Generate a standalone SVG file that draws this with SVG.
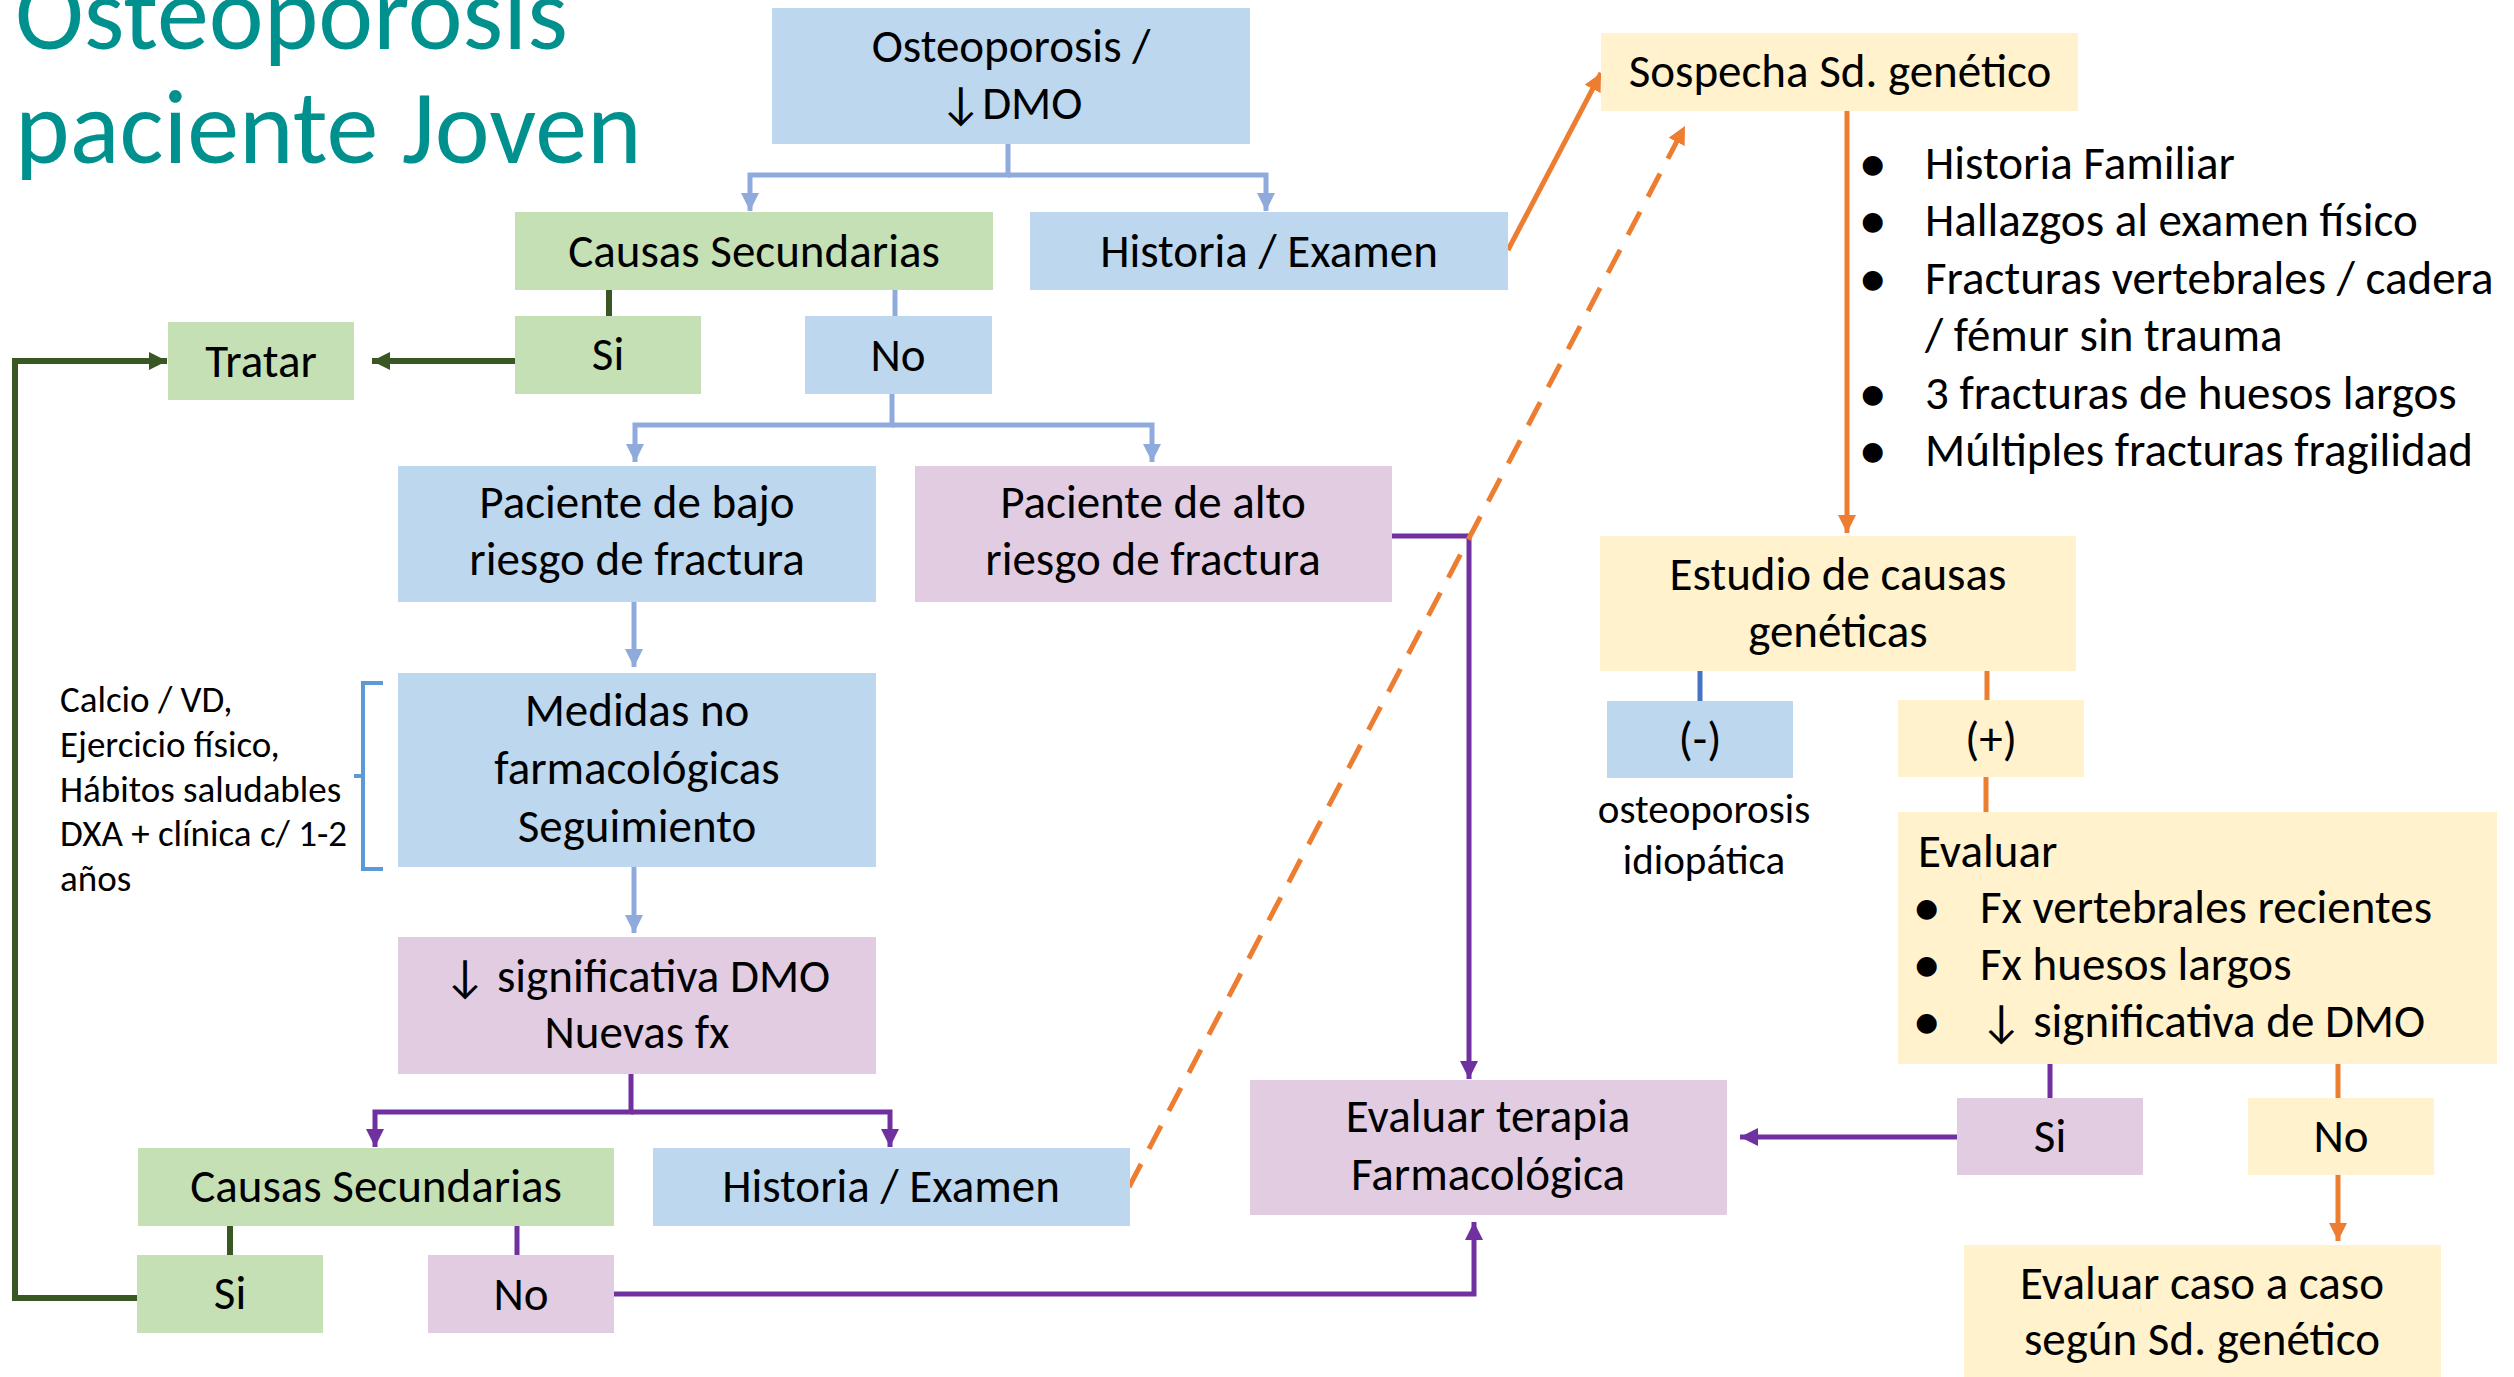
<svg xmlns="http://www.w3.org/2000/svg" width="2514" height="1377" viewBox="0 0 2514 1377">
<defs>
<style>
text{font-family:Carlito,Lato,"Liberation Sans",sans-serif;fill:#000;}
.t{font-size:47px;text-anchor:middle;}
.l{font-size:47px;}
.b{font-size:47px;font-weight:bold;}
.s{font-size:37px;}
.o{font-size:41px;text-anchor:middle;}
.title{font-size:104px;fill:#00918F;}
.blue{fill:#BDD7EE;}
.green{fill:#C5E0B4;}
.purple{fill:#E1CCE2;}
.yellow{fill:#FFF2CC;}
.cb{fill:none;stroke:#8FAADC;stroke-width:5;}
.cp{fill:none;stroke:#7030A0;stroke-width:5;}
.cg{fill:none;stroke:#385723;stroke-width:6;}
.co{fill:none;stroke:#ED7D31;stroke-width:5;}
</style>
<marker id="ab" viewBox="0 0 18 18" refX="18" refY="9" markerWidth="18" markerHeight="18" markerUnits="userSpaceOnUse" orient="auto"><path d="M0,0 L18,9 L0,18 z" fill="#8FAADC"/></marker>
<marker id="ap" viewBox="0 0 18 18" refX="18" refY="9" markerWidth="18" markerHeight="18" markerUnits="userSpaceOnUse" orient="auto"><path d="M0,0 L18,9 L0,18 z" fill="#7030A0"/></marker>
<marker id="ag" viewBox="0 0 18 18" refX="18" refY="9" markerWidth="18" markerHeight="18" markerUnits="userSpaceOnUse" orient="auto"><path d="M0,0 L18,9 L0,18 z" fill="#385723"/></marker>
<marker id="ao" viewBox="0 0 18 18" refX="18" refY="9" markerWidth="18" markerHeight="18" markerUnits="userSpaceOnUse" orient="auto"><path d="M0,0 L18,9 L0,18 z" fill="#ED7D31"/></marker>
</defs>
<rect width="2514" height="1377" fill="#fff"/>

<g id="title">
<text class="title" x="15" y="49">Osteoporosis</text>
<text class="title" x="15" y="163">paciente Joven</text>
</g>

<g id="connectors">
<path class="cb" d="M1008,144 V175 H750 V211" marker-end="url(#ab)"/>
<path class="cb" d="M1008,175 H1266 V211" marker-end="url(#ab)"/>
<path class="cb" d="M895,290 V316"/>
<path class="cb" d="M892,394 V425 H635 V462" marker-end="url(#ab)"/>
<path class="cb" d="M892,425 H1152 V462" marker-end="url(#ab)"/>
<path class="cb" d="M634,602 V667" marker-end="url(#ab)"/>
<path class="cb" d="M634,867 V933" marker-end="url(#ab)"/>
<path class="cg" d="M609,290 V316"/>
<path class="cg" d="M515,361 H372" marker-end="url(#ag)"/>
<path class="cg" d="M137,1298 H15 V361 H167" marker-end="url(#ag)"/>
<path class="cg" d="M230,1226 V1255"/>
<path class="cp" d="M631,1074 V1112 H375 V1147" marker-end="url(#ap)"/>
<path class="cp" d="M631,1112 H890 V1147" marker-end="url(#ap)"/>
<path class="cp" d="M517,1226 V1255"/>
<path class="cp" d="M614,1294 H1474 V1222" marker-end="url(#ap)"/>
<path class="cp" d="M1392,536 H1469 V1079" marker-end="url(#ap)"/>
<path class="cp" d="M2050,1064 V1098"/>
<path class="cp" d="M1957,1137 H1740" marker-end="url(#ap)"/>
<path class="co" d="M1508,250 L1601,73" marker-end="url(#ao)"/>
<path class="co" d="M1129,1187 L1685,126" stroke-dasharray="26 17" marker-end="url(#ao)"/>
<path class="co" d="M1847,111 V533" marker-end="url(#ao)"/>
<path class="co" d="M1987,671 V700"/>
<path class="co" d="M1986,777 V812"/>
<path class="co" d="M2338,1064 V1098"/>
<path class="co" d="M2338,1175 V1241" marker-end="url(#ao)"/>
<path d="M1700,671 V701" fill="none" stroke="#4472C4" stroke-width="5"/>
<path d="M383,683 H363 V869 H383 M363,776 H354" fill="none" stroke="#5B9BD5" stroke-width="4"/>
</g>

<g id="n-osteo"><rect class="blue" x="772" y="8" width="478" height="136"/>
<text class="t" x="1011" y="62">Osteoporosis /</text><text class="t" x="1011" y="119">↓DMO</text></g>

<g id="n-causas1"><rect class="green" x="515" y="212" width="478" height="78"/>
<text class="t" x="754" y="267">Causas Secundarias</text></g>
<g id="n-historia1"><rect class="blue" x="1030" y="212" width="478" height="78"/>
<text class="t" x="1269" y="267">Historia / Examen</text></g>

<g id="n-tratar"><rect class="green" x="168" y="322" width="186" height="78"/>
<text class="t" x="261" y="377">Tratar</text></g>
<g id="n-si1"><rect class="green" x="515" y="316" width="186" height="78"/>
<text class="t" x="608" y="370">Si</text></g>
<g id="n-no1"><rect class="blue" x="805" y="316" width="187" height="78"/>
<text class="t" x="898" y="371">No</text></g>

<g id="n-bajo"><rect class="blue" x="398" y="466" width="478" height="136"/>
<text class="t" x="637" y="518">Paciente de bajo</text><text class="t" x="637" y="575">riesgo de fractura</text></g>
<g id="n-alto"><rect class="purple" x="915" y="466" width="477" height="136"/>
<text class="t" x="1153" y="518">Paciente de alto</text><text class="t" x="1153" y="575">riesgo de fractura</text></g>

<g id="n-medidas"><rect class="blue" x="398" y="673" width="478" height="194"/>
<text class="t" x="637" y="726">Medidas no</text><text class="t" x="637" y="784">farmacológicas</text><text class="t" x="637" y="842">Seguimiento</text></g>

<g id="n-nota">
<text class="s" x="60" y="712">Calcio / VD,</text>
<text class="s" x="60" y="757">Ejercicio físico,</text>
<text class="s" x="60" y="802">Hábitos saludables</text>
<text class="s" x="60" y="846">DXA + clínica c/ 1-2</text>
<text class="s" x="60" y="891">años</text>
</g>

<g id="n-signif"><rect class="purple" x="398" y="937" width="478" height="137"/>
<text class="t" x="637" y="992">↓ significativa DMO</text><text class="t" x="637" y="1048">Nuevas fx</text></g>

<g id="n-causas2"><rect class="green" x="138" y="1148" width="476" height="78"/>
<text class="t" x="376" y="1202">Causas Secundarias</text></g>
<g id="n-historia2"><rect class="blue" x="653" y="1148" width="477" height="78"/>
<text class="t" x="891" y="1202">Historia / Examen</text></g>
<g id="n-si2"><rect class="green" x="137" y="1255" width="186" height="78"/>
<text class="t" x="230" y="1309">Si</text></g>
<g id="n-no2"><rect class="purple" x="428" y="1255" width="186" height="78"/>
<text class="t" x="521" y="1310">No</text></g>

<g id="n-terapia"><rect class="purple" x="1250" y="1080" width="477" height="135"/>
<text class="t" x="1488" y="1132">Evaluar terapia</text><text class="t" x="1488" y="1190">Farmacológica</text></g>

<g id="n-sospecha"><rect class="yellow" x="1601" y="33" width="477" height="78"/>
<text class="t" x="1840" y="87">Sospecha Sd. genético</text></g>

<g id="n-criterios">
<text class="b" x="1861" y="179">•</text><text class="l" x="1925" y="179">Historia Familiar</text>
<text class="b" x="1861" y="236">•</text><text class="l" x="1925" y="236">Hallazgos al examen físico</text>
<text class="b" x="1861" y="294">•</text><text class="l" x="1925" y="294">Fracturas vertebrales / cadera</text>
<text class="l" x="1925" y="351">/ fémur sin trauma</text>
<text class="b" x="1861" y="409">•</text><text class="l" x="1925" y="409">3 fracturas de huesos largos</text>
<text class="b" x="1861" y="466">•</text><text class="l" x="1925" y="466">Múltiples fracturas fragilidad</text>
</g>

<g id="n-estudio"><rect class="yellow" x="1600" y="536" width="476" height="135"/>
<text class="t" x="1838" y="590">Estudio de causas</text><text class="t" x="1838" y="647">genéticas</text></g>

<g id="n-neg"><rect class="blue" x="1607" y="701" width="186" height="77"/>
<text class="t" x="1700" y="755">(-)</text></g>
<g id="n-idio">
<text class="o" x="1704" y="823">osteoporosis</text><text class="o" x="1704" y="874">idiopática</text></g>
<g id="n-pos"><rect class="yellow" x="1898" y="700" width="186" height="77"/>
<text class="t" x="1991" y="755">(+)</text></g>

<g id="n-evaluar"><rect class="yellow" x="1898" y="812" width="599" height="252"/>
<text class="l" x="1918" y="867">Evaluar</text>
<text class="b" x="1915" y="923">•</text><text class="l" x="1980" y="923">Fx vertebrales recientes</text>
<text class="b" x="1915" y="980">•</text><text class="l" x="1980" y="980">Fx huesos largos</text>
<text class="b" x="1915" y="1037">•</text><text class="l" x="1980" y="1037">↓ significativa de DMO</text>
</g>

<g id="n-si3"><rect class="purple" x="1957" y="1098" width="186" height="77"/>
<text class="t" x="2050" y="1152">Si</text></g>
<g id="n-no3"><rect class="yellow" x="2248" y="1098" width="186" height="77"/>
<text class="t" x="2341" y="1152">No</text></g>

<g id="n-caso"><rect class="yellow" x="1964" y="1245" width="477" height="132"/>
<text class="t" x="2202" y="1299">Evaluar caso a caso</text><text class="t" x="2202" y="1355">según Sd. genético</text></g>
</svg>
